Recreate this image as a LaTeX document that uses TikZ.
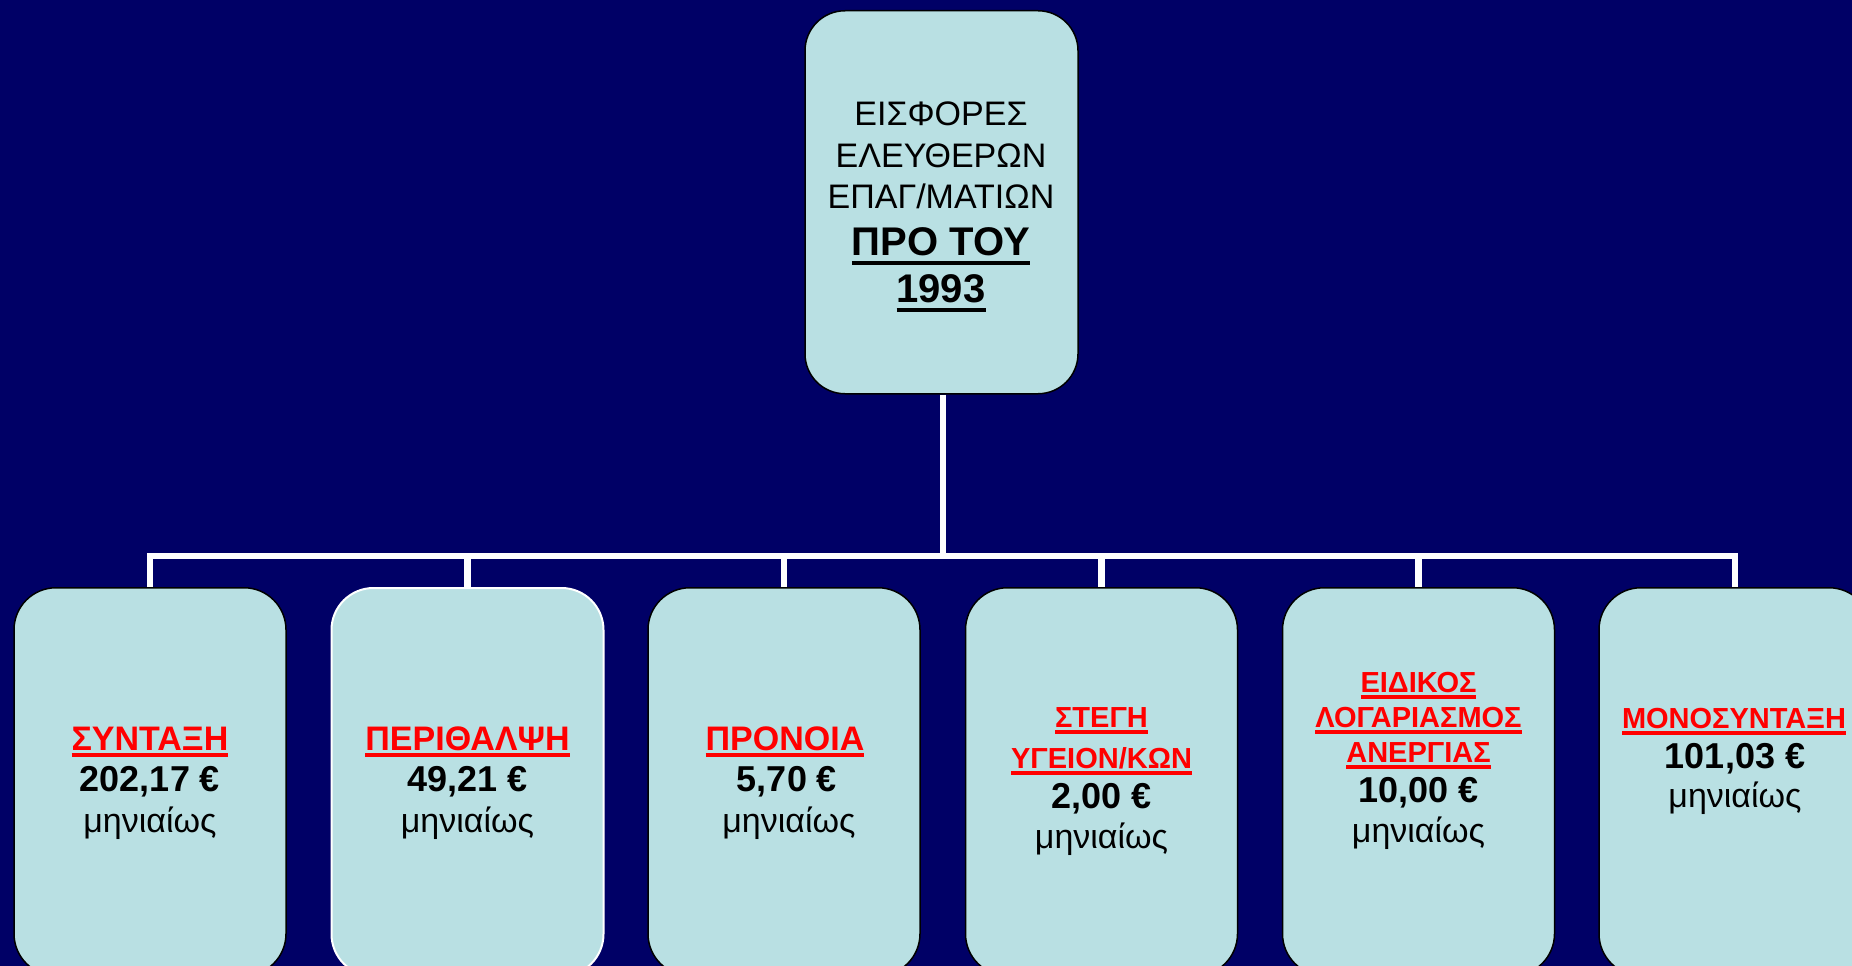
\documentclass[tikz,border=0pt]{standalone}
\usepackage{fontspec}
\setmainfont{Liberation Sans}
\definecolor{bgblue}{RGB}{0,0,102}
\definecolor{boxfill}{RGB}{185,224,227}
\definecolor{titlered}{RGB}{255,0,0}
\newcommand\myul[3]{\setbox0\hbox{#3}\rlap{\rule[#1]{\wd0}{#2}}\box0}
\tikzset{
  box/.style={draw=black, line width=1.5pt, fill=boxfill, rounded corners=42pt,
    minimum width=272pt, minimum height=388pt, anchor=north, inner sep=0pt},
  conn/.style={draw=white, line width=6.5pt, line join=miter},
  lbl/.style={anchor=base, inner sep=0pt, text=black},
  toptxt/.style={lbl, font=\fontsize{34}{40}\selectfont},
  topbold/.style={lbl, font=\fontsize{40}{46}\selectfont\bfseries},
  bigtitle/.style={lbl, text=titlered, font=\fontsize{34}{41}\selectfont\bfseries},
  smalltitle/.style={lbl, text=titlered, font=\fontsize{29}{35}\selectfont\bfseries},
  amount/.style={lbl, font=\fontsize{36}{42}\selectfont\bfseries},
  monthly/.style={lbl, font=\fontsize{34}{41}\selectfont},
}
\begin{document}
\begin{tikzpicture}[x=1pt,y=-1pt]
\useasboundingbox (0,0) rectangle (1852,966);
\clip (0,0) rectangle (1852,966);
\fill[bgblue] (0,0) rectangle (1852,966);

% placement nodes for the boxes
\path (941.5,10) node[box, minimum width=273pt, minimum height=383pt, rounded corners=40pt, draw=none, fill=none] (top) {};
\path (150,587) node[box, draw=none, fill=none] (b1) {};
\path (467.5,587) node[box, draw=none, fill=none] (b2) {};
\path (784,587) node[box, draw=none, fill=none] (b3) {};
\path (1101.5,587) node[box, draw=none, fill=none] (b4) {};
\path (1418.5,587) node[box, draw=none, fill=none] (b5) {};
\path (1735,587) node[box, draw=none, fill=none] (b6) {};
\coordinate (j) at (943,556);

% connectors
\draw[conn] (top.south -| j) -- (j);
\draw[conn] (b1.north) |- (b6.north |- j) -- (b6.north);
\draw[conn] (b2.north) -- (b2.north |- j);
\draw[conn] (b3.north) -- (b3.north |- j);
\draw[conn] (b4.north) -- (b4.north |- j);
\draw[conn] (b5.north) -- (b5.north |- j);

% visible boxes
\node[box, minimum width=273pt, minimum height=383pt, rounded corners=40pt] (topbox) at (top.north) {};
\node[box] (box1) at (b1.north) {};
\node[box, draw=white, line width=2pt] (box2) at (b2.north) {};
\node[box] (box3) at (b3.north) {};
\node[box] (box4) at (b4.north) {};
\node[box] (box5) at (b5.north) {};
\node[box] (box6) at (b6.north) {};

% top box text
\node[toptxt] (t0a) at (941,125) {ΕΙΣΦΟΡΕΣ};
\node[toptxt] (t0b) at (941,167) {ΕΛΕΥΘΕΡΩΝ};
\node[toptxt] (t0c) at (941,208) {ΕΠΑΓ/ΜΑΤΙΩΝ};
\node[topbold] (t0d) at (941,255) {\myul{-10pt}{4pt}{ΠΡΟ ΤΟΥ}};
\node[topbold] (t0e) at (941,302) {\myul{-10pt}{4pt}{1993}};

% box 1
\node[bigtitle] (t1a) at (150,750) {\myul{-7pt}{4pt}{ΣΥΝΤΑΞΗ}};
\node[amount] (t1b) at (150,791) {202,17 €};
\node[monthly] (t1c) at (150,832) {μηνιαίως};
% box 2
\node[bigtitle] (t2a) at (467.5,750) {\myul{-7pt}{4pt}{ΠΕΡΙΘΑΛΨΗ}};
\node[amount] (t2b) at (467.5,791) {49,21 €};
\node[monthly] (t2c) at (467.5,832) {μηνιαίως};
% box 3
\node[bigtitle] (t3a) at (785,750) {\myul{-7pt}{4pt}{ΠΡΟΝΟΙΑ}};
\node[amount] (t3b) at (787,791) {5,70 €};
\node[monthly] (t3c) at (789,832) {μηνιαίως};
% box 4
\node[smalltitle] (t4a) at (1101.5,727) {\myul{-6.5pt}{3.5pt}{ΣΤΕΓΗ}};
\node[smalltitle] (t4b) at (1101.5,768) {\myul{-6.5pt}{3.5pt}{ΥΓΕΙΟΝ/ΚΩΝ}};
\node[amount] (t4c) at (1101.5,808) {2,00 €};
\node[monthly] (t4d) at (1101.5,848) {μηνιαίως};
% box 5
\node[smalltitle] (t5a) at (1418.5,692) {\myul{-6.5pt}{3.5pt}{ΕΙΔΙΚΟΣ}};
\node[smalltitle] (t5b) at (1418.5,727) {\myul{-6.5pt}{3.5pt}{ΛΟΓΑΡΙΑΣΜΟΣ}};
\node[smalltitle] (t5c) at (1418.5,762) {\myul{-6.5pt}{3.5pt}{ΑΝΕΡΓΙΑΣ}};
\node[amount] (t5d) at (1418.5,802) {10,00 €};
\node[monthly] (t5e) at (1418.5,842) {μηνιαίως};
% box 6
\node[smalltitle] (t6a) at (1734,728) {\myul{-6.5pt}{3.5pt}{ΜΟΝΟΣΥΝΤΑΞΗ}};
\node[amount] (t6b) at (1735,768) {101,03 €};
\node[monthly] (t6c) at (1735,807) {μηνιαίως};
\end{tikzpicture}
\end{document}
